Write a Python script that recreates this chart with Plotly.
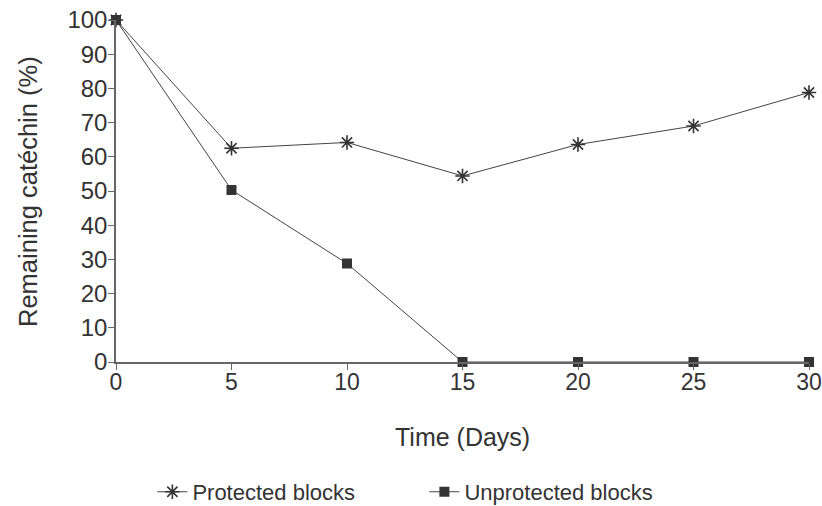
import plotly.graph_objects as go

days = [0, 5, 10, 15, 20, 25, 30]
protected = [100, 62.5, 64.2, 54.4, 63.6, 69.0, 78.8]
unprotected = [100, 50.3, 28.8, 0, 0, 0, 0]

ink = "#333333"
axis_col = "#666666"
font = "Liberation Sans, Arial, sans-serif"

fig = go.Figure()
fig.add_trace(go.Scatter(
    x=days, y=protected, name="Protected blocks", mode="lines+markers",
    line=dict(color="#444444", width=1),
    marker=dict(symbol="asterisk-open", size=12, color=ink, line=dict(color=ink, width=1.6)),
    cliponaxis=False,
))
fig.add_trace(go.Scatter(
    x=days, y=unprotected, name="Unprotected blocks", mode="lines+markers",
    line=dict(color="#444444", width=1),
    marker=dict(symbol="square", size=10, color=ink),
    cliponaxis=False,
))

fig.update_layout(
    width=822, height=506,
    margin=dict(l=116, r=13, t=20, b=144, autoexpand=False),
    paper_bgcolor="white", plot_bgcolor="white",
    font=dict(family=font, size=24, color=ink),
    showlegend=True,
    legend=dict(orientation="h", x=0.445, xanchor="center", y=-0.38, yanchor="middle",
                font=dict(size=22), entrywidth=227, entrywidthmode="pixels"),
    xaxis=dict(
        range=[0, 30], tickvals=days, showgrid=False, zeroline=False,
        showline=True, linecolor=axis_col, linewidth=1.5,
        ticks="outside", ticklen=6, tickcolor=axis_col, automargin=False,
        tickfont=dict(size=23), ticklabeloverflow="allow", ticklabelstandoff=-7,
    ),
    yaxis=dict(
        range=[0, 100], dtick=10, showgrid=False, zeroline=False,
        showline=True, linecolor=axis_col, linewidth=1.5,
        ticks="outside", ticklen=6, tickcolor=axis_col, automargin=False,
        ticklabeloverflow="allow", ticklabelstandoff=-4,
    ),
    annotations=[
        dict(text="Time (Days)", xref="paper", yref="paper", x=0.5, y=-0.219,
             xanchor="center", yanchor="middle", showarrow=False, font=dict(size=25)),
        dict(text="Remaining catéchin (%)", xref="paper", yref="paper", x=-0.127, y=0.5,
             xanchor="center", yanchor="middle", textangle=-90, showarrow=False,
             font=dict(size=25.5)),
    ],
)

# drop the browser's default 8px body margin so the figure fills the window
fig.write_html("out.html", config={"displayModeBar": False},
               post_script="document.body.style.margin='0';")
